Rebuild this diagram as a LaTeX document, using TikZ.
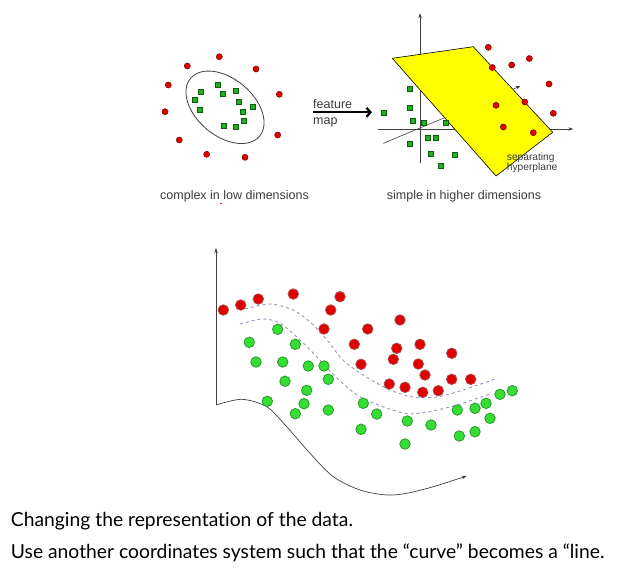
\documentclass[tikz,border=0pt]{standalone}
\usepackage{fontspec}
\usepackage{tikz}
\usepackage{xcolor}
\usetikzlibrary{shapes.geometric, arrows.meta, positioning}
\newfontfamily\labelfont{Liberation Sans}
\newfontfamily\slidefont[Ligatures=NoCommon]{Lato}
\definecolor{PtRed}{HTML}{E00000}
\definecolor{PtRedEdge}{HTML}{8A0000}
\definecolor{PtGreen}{HTML}{35DD35}
\definecolor{PtGreenEdge}{HTML}{2A9A2A}
\definecolor{SqGreen}{HTML}{22B022}
\definecolor{SqGreenEdge}{HTML}{0E5A0E}
\definecolor{PlaneYellow}{HTML}{FFFF00}
\definecolor{AxisGray}{HTML}{404040}
\definecolor{LabelGray}{HTML}{3A3A3A}
\definecolor{MarginBlue}{HTML}{9494BC}
\tikzset{
    % Point styles
    reddot/.style={
        circle,
        draw=PtRedEdge,
        fill=PtRed,
        line width=0.6pt,
        minimum size=6pt,
        inner sep=0pt
    },
    greensq/.style={
        rectangle,
        draw=SqGreenEdge,
        fill=SqGreen,
        line width=0.6pt,
        minimum size=5pt,
        inner sep=0pt
    },
    redball/.style={
        circle,
        draw=PtRedEdge!70,
        fill=PtRed,
        line width=0.8pt,
        minimum size=10.5pt,
        inner sep=0pt
    },
    greenball/.style={
        circle,
        draw=PtGreenEdge,
        fill=PtGreen,
        line width=0.8pt,
        minimum size=10.5pt,
        inner sep=0pt
    },
    % Line styles
    axis/.style={
        -{Stealth[length=5pt, width=3.5pt]},
        line width=0.6pt,
        draw=AxisGray
    },
    maparrow/.style={
        -{Straight Barb[length=4pt, width=9pt]},
        line width=2.2pt,
        draw=black
    },
    margin/.style={
        dashed,
        line width=0.9pt,
        draw=MarginBlue
    },
    % Text styles
    smalllabel/.style={
        font=\labelfont\fontsize{12.5}{14}\selectfont,
        text=LabelGray,
        inner sep=0pt
    },
    tinylabel/.style={
        font=\labelfont\fontsize{10.2}{10}\selectfont,
        text=LabelGray,
        align=left,
        inner sep=0pt
    },
    slidetext/.style={
        font=\slidefont\fontsize{19.3}{22}\selectfont,
        text=black,
        inner sep=0pt
    }
}

\begin{document}
\begin{tikzpicture}[x=1pt, y=-1pt]
    \useasboundingbox (0,0) rectangle (637,574);

    % Low dimensional view
    \node[ellipse, draw=AxisGray, line width=0.8pt, minimum width=90pt,
          minimum height=57pt, inner sep=0pt, rotate=-40] (boundary) at (225,107.3) {};
    \foreach \x/\y [count=\i] in {219.3/56.7, 187.3/66, 256/69, 168.3/85, 279.3/94.3,
            165/111.7, 277.7/135, 179.3/140, 206.7/154.3, 245/157.3}
        \node[reddot] (lr\i) at (\x,\y) {};
    \foreach \x/\y [count=\i] in {217.7/84.3, 201/91.7, 222.7/94, 235.7/91, 194.3/99.3,
            239/101.7, 252.3/106.7, 200/110, 242.3/111.7, 243.3/120.7, 224/126, 235.7/126.7}
        \node[greensq] (lg\i) at (\x,\y) {};
    \node[smalllabel, anchor=base west] (lowtxt) at (160,199.3) {complex in low dimensions};
    \node[circle, fill=PtRed, inner sep=0pt, minimum size=1.6pt] (speck) at (221,203.5) {};

    % Feature map
    \coordinate (mapA) at (313,112.3);
    \coordinate (mapB) at (372,112.3);
    \draw[maparrow] (mapA) -- (mapB);
    \node[smalllabel, anchor=base west] (feat) at (313,108.5) {feature};
    \node[smalllabel, anchor=base west] (map) at (313,124.3) {map};

    % High dimensional view
    \draw[axis] (420,163.3) coordinate (vlow) -- (420,13.3) coordinate (vtop);
    \draw[axis] (378.3,129) coordinate (hleft) -- (573.3,129) coordinate (hright);
    \draw[axis] (383.3,143.3) coordinate (dlow) -- (520.5,86) coordinate (dtop);
    \draw[fill=PlaneYellow, draw=black, line width=0.6pt]
        (392.3,58.3) coordinate (p1) -- (473.3,46.7) coordinate (p2)
        -- (552.7,132.3) coordinate (p3) -- (496,176) coordinate (p4) -- cycle;
    \foreach \x/\y [count=\i] in {488.3/47.3, 492.3/67.5, 511.7/65, 529.3/58.5, 549/84,
            496/105.3, 524.8/102, 553.3/113.3, 503.3/127, 533.3/132.7}
        \node[reddot] (hr\i) at (\x,\y) {};
    \foreach \x/\y [count=\i] in {410/88.3, 410/107.3, 383.3/112.7, 412.3/120.7, 423.3/122.7,
            446/122.7, 427.7/137.3, 435.7/137.3, 409.3/143.3, 431/153.3, 454.3/155, 440.7/165.7}
        \node[greensq] (hg\i) at (\x,\y) {};
    \node[tinylabel, anchor=base west] (sep) at (506.7,160.7) {separating};
    \node[tinylabel, anchor=base west] (hyp) at (506.7,170.5) {hyperplane};
    \node[smalllabel, anchor=base west] (hightxt) at (386.7,199.3) {simple in higher dimensions};

    % Curved boundary
    \coordinate (o2) at (216,405);
    \draw[axis] (o2) -- (216,248) coordinate (yend2);
    \draw[axis, line width=0.7pt] plot[smooth] coordinates {(216,405) (241.7,399.3) (266.7,406.7)
        (286.7,426.7) (310,453.3) (333.3,476.7) (360,490) (386.7,495) (406.7,493.3)
        (433.3,486.7) (466.7,476)};
    \draw[margin] plot[smooth] coordinates {(245,309) (270,304) (293,310) (310,322) (327,340)
        (343,360) (363,375) (390,390) (413,397) (437,397) (463,390) (495,379)};
    \draw[margin] plot[smooth] coordinates {(240,324) (262,319) (280,323) (300,340) (317,357)
        (337,378) (362,398) (403,413) (427,412) (457,405) (490,394)};
    \foreach \x/\y [count=\i] in {223.3/310, 240.7/305, 258.3/299, 293.3/294, 340/296.7,
            330.7/310, 324/329, 367.7/329, 400/320, 354.3/344.3, 396.7/348.3, 420/344.3,
            451.7/353.3, 393.3/359.3, 361/364.3, 418.3/364, 425/375, 451.7/379.3, 470.7/379.3,
            389.3/384, 405/387.3, 422.7/392.3, 438.3/390.7}
        \node[redball] (br\i) at (\x,\y) {};
    \foreach \x/\y [count=\i] in {277.7/329.3, 249.3/342.3, 295.3/344.3, 256/362, 282.7/362,
            308.3/366, 324/366, 328.3/379.3, 285/381.3, 306.7/390.3, 267.3/401.3, 304/403.7,
            295.3/413.7, 328.3/410, 363.3/403.3, 376.7/414, 361/429.3, 407.3/421, 405/444,
            431/425, 457.3/410, 475/408.3, 486/403.3, 500/394.3, 512.3/390.7, 490/418.3,
            459.3/436, 475/431.7}
        \node[greenball] (bg\i) at (\x,\y) {};

    % Caption
    \node[slidetext, anchor=base west] (cap1) at (10.7,526.7) {Changing the representation of the data.};
    \node[slidetext, anchor=base west] (cap2) at (10.7,558.3) {Use another coordinates system such that the “curve” becomes a “line.};
\end{tikzpicture}
\end{document}
